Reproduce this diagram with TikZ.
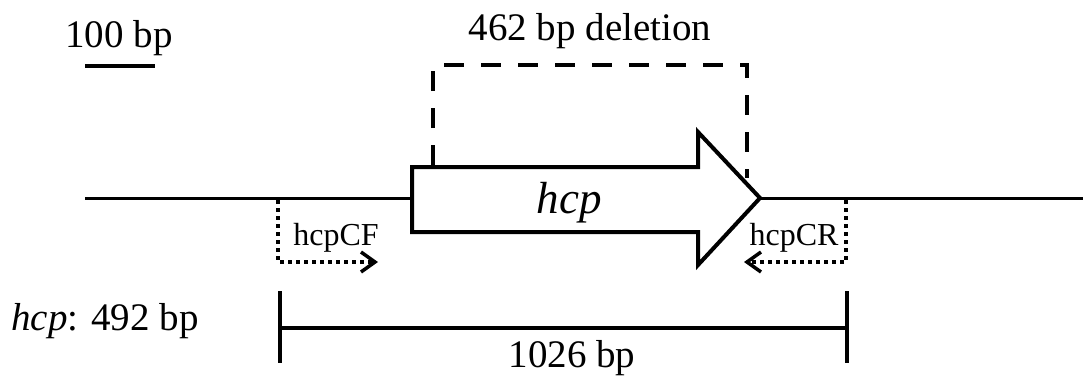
\documentclass[tikz,border=0pt]{standalone}
\usepackage{fontspec}
\setmainfont{Liberation Serif}
\usetikzlibrary{arrows.meta}
\begin{document}
\begin{tikzpicture}[x=1pt,y=-1pt,
  lbl/.style={inner sep=0pt,anchor=base,font=\fontsize{39}{42}\selectfont},
  plbl/.style={inner sep=0pt,anchor=base,font=\fontsize{32}{34}\selectfont},
  dna/.style={line width=3pt},
  gene/.style={line width=4pt,fill=white,line join=miter},
  delbox/.style={line width=4pt,dash pattern=on 20pt off 17pt},
  primer/.style={line width=4pt,dash pattern=on 4pt off 4pt,-{Straight Barb[length=14pt,width=20pt,line width=3.5pt]}},
  bar/.style={line width=3.5pt}]
\useasboundingbox (0,0) rectangle (1083,376);
% DNA line
\coordinate (L0) at (85,198);
\coordinate (R0) at (1083,198);
\coordinate (gL) at (412,198);
\coordinate (gT) at (760,198);
\draw[dna] (L0) -- (gL);
\draw[dna] (gT) -- (R0);
% gene arrow
\draw[gene] (412,167) -- (698,167) -- (698,132) -- (gT) -- (698,265) -- (698,232) -- (412,232) -- cycle;
\node[inner sep=0pt,anchor=base,font=\fontsize{45}{48}\selectfont\itshape] (hcp) at (569,213) {hcp};
% deletion bracket
\coordinate (d1) at (433,165);
\coordinate (d2) at (747,178);
\draw[delbox] (d1) -- (433,65) -- (747,65) -- (d2);
\node[lbl] (del) at (590,40) {462 bp deletion};
% scale bar
\node[lbl] (sc) at (119,47) {100 bp};
\coordinate (s1) at (85,66);
\coordinate (s2) at (155,66);
\draw[line width=4.5pt] (s1) -- (s2);
% primers
\coordinate (f0) at (278,200);
\coordinate (f1) at (378,262);
\draw[primer] (f0) |- (f1);
\node[plbl] (cf) at (336,245) {hcpCF};
\coordinate (r0) at (846,200);
\coordinate (r1) at (744,262);
\draw[primer] (r0) |- (r1);
\node[plbl] (cr) at (794,245) {hcpCR};
% product bar
\coordinate (b1) at (280,328);
\coordinate (b2) at (847,328);
\draw[bar] (b1) -- (b2);
\draw[bar] (280,291) -- (280,363);
\draw[bar] (847,291) -- (847,363);
\node[lbl] (len) at (572,367) {1026 bp};
\node[lbl,anchor=base west] (hl) at (11,330) {\textit{hcp}: 492 bp};
\end{tikzpicture}
\end{document}
